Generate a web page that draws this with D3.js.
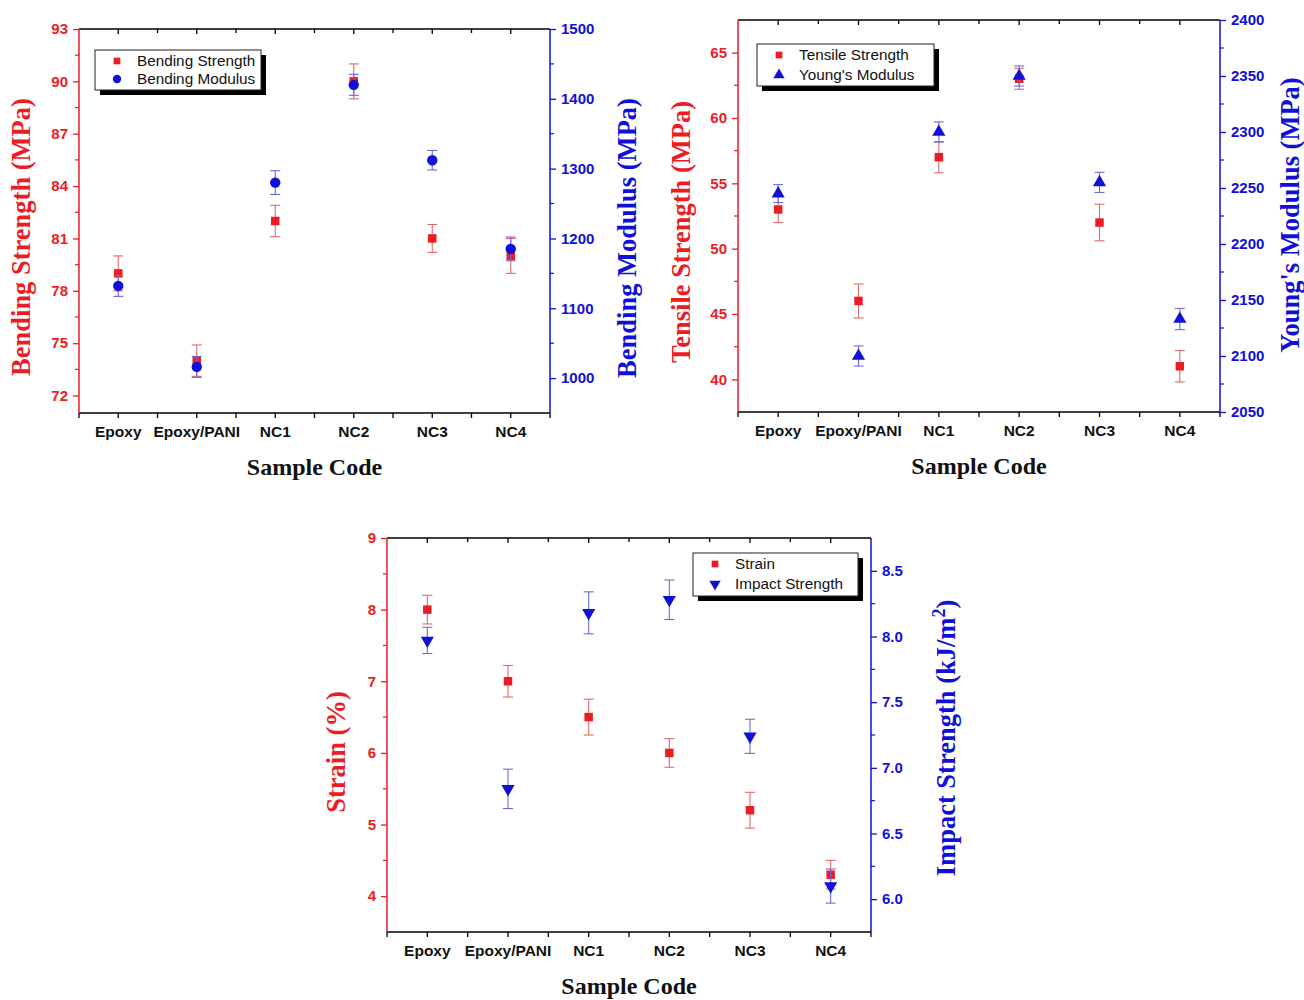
<!DOCTYPE html>
<html><head><meta charset="utf-8">
<script src="https://cdn.jsdelivr.net/npm/d3@7"></script>
<style>body{margin:0;background:#fff}</style>
</head><body>
<svg id="c" width="1304" height="1000"></svg>
<script>
const categories = ["Epoxy","Epoxy/PANI","NC1","NC2","NC3","NC4"];

const bendingStrength    = [79, 74, 82, 90, 81, 80];
const bendingStrengthErr = [1, 0.9, 0.9, 1, 0.8, 1];
const bendingModulus     = [1132, 1016, 1280, 1420, 1312, 1185];
const bendingModulusErr  = [15, 15, 17, 15, 14, 17];

const tensileStrength    = [53, 46, 57, 63, 52, 41];
const tensileStrengthErr = [1, 1.3, 1.2, 0.8, 1.4, 1.2];
const youngsModulus      = [2245, 2100, 2300, 2350, 2255, 2133];
const youngsModulusErr   = [8, 9, 9, 9, 9, 9.5];

const strain             = [8, 7, 6.5, 6, 5.2, 4.3];
const strainErr          = [0.2, 0.22, 0.25, 0.2, 0.25, 0.2];
const impactStrength     = [7.97, 6.84, 8.18, 8.28, 7.24, 6.10];
const impactStrengthErr  = [0.1, 0.15, 0.16, 0.15, 0.13, 0.13];

const bendingLeftTicks  = [72, 75, 78, 81, 84, 87, 90, 93];
const bendingRightTicks = [1000, 1100, 1200, 1300, 1400, 1500];
const tensileLeftTicks  = [40, 45, 50, 55, 60, 65];
const youngRightTicks   = [2050, 2100, 2150, 2200, 2250, 2300, 2350, 2400];
const strainLeftTicks   = [4, 5, 6, 7, 8, 9];
const impactRightTicks  = [6.0, 6.5, 7.0, 7.5, 8.0, 8.5];

const RED = "#ec1c24", BLUE = "#1010d8";
const RED_ERR = "#e06a6a", BLUE_ERR = "#6a6ae0";
const svg = d3.select("#c");

function panel(cfg) {
  const g = svg.append("g");
  const x = d3.scaleBand().domain(categories).range([cfg.x0, cfg.x1]);
  const cx = c => x(c) + x.bandwidth() / 2;
  const yL = d3.scaleLinear().domain(cfg.lDomain).range([cfg.y1, cfg.y0]);
  const yR = d3.scaleLinear().domain(cfg.rDomain).range([cfg.y1, cfg.y0]);

  const xt = [];
  categories.forEach((c, i) => { xt.push({p: cx(c), major: true}); if (i > 0) xt.push({p: x(c), major: false}); });

  // top axis
  g.append("line").attr("x1", cfg.x0).attr("x2", cfg.x1).attr("y1", cfg.y0).attr("y2", cfg.y0).attr("stroke", "#000").attr("stroke-width", 1.5);
  g.selectAll(".tt").data(xt).join("line").attr("x1", d => d.p).attr("x2", d => d.p)
    .attr("y1", cfg.y0).attr("y2", d => cfg.y0 + (d.major ? 5 : 4)).attr("stroke", "#000").attr("stroke-width", 1.3);

  // bottom axis
  const bx = d3.axisBottom(x).tickSize(0).tickPadding(13);
  const bg = g.append("g").attr("transform", `translate(0,${cfg.y1})`).call(bx);
  bg.select(".domain").attr("stroke", "#000").attr("stroke-width", 1.5).attr("d", `M${cfg.x0},0H${cfg.x1}`);
  bg.selectAll("text").attr("font-family", "Liberation Sans, Arial").attr("font-weight", "bold").attr("font-size", 15.5).attr("fill", "#111");
  g.selectAll(".bt").data(xt.concat([{p: cfg.x0}, {p: cfg.x1}])).join("line").attr("x1", d => d.p).attr("x2", d => d.p)
    .attr("y1", cfg.y1).attr("y2", cfg.y1 + 5).attr("stroke", "#000").attr("stroke-width", 1.3);

  // left axis
  const la = d3.axisLeft(yL).tickValues(cfg.lTicks).tickSize(6).tickPadding(5).tickFormat(cfg.lFmt || (d => d));
  const lg = g.append("g").attr("transform", `translate(${cfg.x0},0)`).call(la);
  lg.select(".domain").attr("stroke", RED).attr("stroke-width", 1.5).attr("d", `M0,${cfg.y0}V${cfg.y1}`);
  lg.selectAll(".tick line").attr("stroke", RED).attr("stroke-width", 1.3);
  lg.selectAll("text").attr("font-family", "Liberation Sans, Arial").attr("font-weight", "bold").attr("font-size", 15).attr("fill", RED);
  const lMinor = [];
  const lstep = cfg.lTicks[1] - cfg.lTicks[0];
  cfg.lTicks.forEach(t => [t - lstep / 2, t + lstep / 2].forEach(v => {
    if (v > cfg.lDomain[0] && v < cfg.lDomain[1] && !lMinor.some(m => Math.abs(m - v) < 1e-9)) lMinor.push(v);
  }));
  g.selectAll(".lm").data(lMinor).join("line").attr("x1", cfg.x0).attr("x2", cfg.x0 - 4)
    .attr("y1", d => yL(d)).attr("y2", d => yL(d)).attr("stroke", RED).attr("stroke-width", 1.2);

  // right axis
  const ra = d3.axisRight(yR).tickValues(cfg.rTicks).tickSize(6).tickPadding(5).tickFormat(cfg.rFmt || (d => d));
  const rg = g.append("g").attr("transform", `translate(${cfg.x1},0)`).call(ra);
  rg.select(".domain").attr("stroke", BLUE).attr("stroke-width", 1.5).attr("d", `M0,${cfg.y0}V${cfg.y1}`);
  rg.selectAll(".tick line").attr("stroke", BLUE).attr("stroke-width", 1.3);
  rg.selectAll("text").attr("font-family", "Liberation Sans, Arial").attr("font-weight", "bold").attr("font-size", 15).attr("fill", BLUE);
  const rMinor = [];
  const rstep = cfg.rTicks[1] - cfg.rTicks[0];
  cfg.rTicks.forEach(t => [t - rstep / 2, t + rstep / 2].forEach(v => {
    if (v > cfg.rDomain[0] && v < cfg.rDomain[1] && !rMinor.some(m => Math.abs(m - v) < 1e-9)) rMinor.push(v);
  }));
  g.selectAll(".rm").data(rMinor).join("line").attr("x1", cfg.x1).attr("x2", cfg.x1 + 4)
    .attr("y1", d => yR(d)).attr("y2", d => yR(d)).attr("stroke", BLUE).attr("stroke-width", 1.2);

  // titles
  g.append("text").attr("x", (cfg.x0 + cfg.x1) / 2).attr("y", cfg.y1 + 62).attr("text-anchor", "middle")
    .attr("font-family", "Liberation Serif, Times New Roman").attr("font-weight", "bold").attr("font-size", 24).attr("fill", "#111").text("Sample Code");
  g.append("text").attr("transform", `translate(${cfg.lTitleX},${cfg.lTitleY}) rotate(-90)`).attr("text-anchor", "middle")
    .attr("font-family", "Liberation Serif, Times New Roman").attr("font-weight", "bold").attr("font-size", 26.5).attr("fill", RED).text(cfg.lTitle);
  const rt = g.append("text").attr("transform", `translate(${cfg.rTitleX},${cfg.rTitleY}) rotate(-90)`).attr("text-anchor", "middle")
    .attr("font-family", "Liberation Serif, Times New Roman").attr("font-weight", "bold").attr("font-size", 26.5).attr("fill", BLUE);
  if (cfg.rTitleSup) {
    rt.append("tspan").text(cfg.rTitle);
    rt.append("tspan").attr("baseline-shift", "super").attr("font-size", 18).text(cfg.rTitleSup);
    rt.append("tspan").text(")");
  } else rt.text(cfg.rTitle);

  // series
  function series(vals, errs, y, color, ecolor, shape) {
    const data = categories.map((c, i) => ({c, v: vals[i], e: errs[i]}));
    const eg = g.append("g").attr("stroke", ecolor).attr("stroke-width", 1.1);
    eg.selectAll(".v").data(data).join("line").attr("x1", d => cx(d.c)).attr("x2", d => cx(d.c))
      .attr("y1", d => y(d.v - d.e)).attr("y2", d => y(d.v + d.e));
    eg.selectAll(".t").data(data).join("line").attr("x1", d => cx(d.c) - 5).attr("x2", d => cx(d.c) + 5)
      .attr("y1", d => y(d.v + d.e)).attr("y2", d => y(d.v + d.e));
    eg.selectAll(".b").data(data).join("line").attr("x1", d => cx(d.c) - 5).attr("x2", d => cx(d.c) + 5)
      .attr("y1", d => y(d.v - d.e)).attr("y2", d => y(d.v - d.e));
    g.selectAll(null).data(data).join("path")
      .attr("transform", d => `translate(${cx(d.c)},${y(d.v)})` + (shape === "down" ? " rotate(180)" : ""))
      .attr("d", d3.symbol().type(shape === "square" ? d3.symbolSquare : shape === "circle" ? d3.symbolCircle : d3.symbolTriangle)
        .size(shape === "square" ? 72 : shape === "circle" ? 85 : 75))
      .attr("fill", color);
  }
  series(cfg.lVals, cfg.lErr, yL, RED, RED_ERR, "square");
  series(cfg.rVals, cfg.rErr, yR, BLUE, BLUE_ERR, cfg.rShape);

  // legend
  const L = cfg.legend;
  g.append("rect").attr("x", L.x + 5).attr("y", L.y + 5).attr("width", L.w).attr("height", L.h).attr("fill", "#000");
  g.append("rect").attr("x", L.x).attr("y", L.y).attr("width", L.w).attr("height", L.h).attr("fill", "#fff").attr("stroke", "#222").attr("stroke-width", 1);
  [[cfg.lName, RED, "square"], [cfg.rName, BLUE, cfg.rShape]].forEach((e, i) => {
    const yy = L.y + 11 + i * L.gap;
    g.append("path").attr("transform", `translate(${L.x + 22},${yy})` + (e[2] === "down" ? " rotate(180)" : ""))
      .attr("d", d3.symbol().type(e[2] === "square" ? d3.symbolSquare : e[2] === "circle" ? d3.symbolCircle : d3.symbolTriangle)
        .size(e[2] === "square" ? 45 : 55)).attr("fill", e[1]);
    g.append("text").attr("x", L.x + 42).attr("y", yy + 5).attr("font-family", "Liberation Sans, Arial").attr("font-size", 15.3).attr("fill", "#111").text(e[0]);
  });
}

panel({
  x0: 79, x1: 550, y0: 29, y1: 413,
  lDomain: [71, 93], rDomain: [950, 1500], lTicks: bendingLeftTicks, rTicks: bendingRightTicks,
  lVals: bendingStrength, lErr: bendingStrengthErr, rVals: bendingModulus, rErr: bendingModulusErr,
  rShape: "circle", lName: "Bending Strength", rName: "Bending Modulus",
  lTitle: "Bending Strength (MPa)", lTitleX: 30, lTitleY: 237,
  rTitle: "Bending Modulus (MPa)", rTitleX: 636, rTitleY: 238,
  legend: {x: 95, y: 50, w: 166, h: 40, gap: 18}
});

panel({
  x0: 738, x1: 1220, y0: 20, y1: 412,
  lDomain: [37.5, 67.5], rDomain: [2050, 2400], lTicks: tensileLeftTicks, rTicks: youngRightTicks,
  lVals: tensileStrength, lErr: tensileStrengthErr, rVals: youngsModulus, rErr: youngsModulusErr,
  rShape: "up", lName: "Tensile Strength", rName: "Young's Modulus",
  lTitle: "Tensile Strength (MPa)", lTitleX: 690, lTitleY: 232,
  rTitle: "Young's Modulus (MPa)", rTitleX: 1299, rTitleY: 215,
  legend: {x: 757, y: 44, w: 177, h: 42, gap: 20}
});

panel({
  x0: 387, x1: 871, y0: 538, y1: 932,
  lDomain: [3.5, 9], rDomain: [5.75, 8.75], lTicks: strainLeftTicks, rTicks: impactRightTicks,
  rFmt: d3.format(".1f"),
  lVals: strain, lErr: strainErr, rVals: impactStrength, rErr: impactStrengthErr,
  rShape: "down", lName: "Strain", rName: "Impact Strength",
  lTitle: "Strain (%)", lTitleX: 345, lTitleY: 752,
  rTitle: "Impact Strength (kJ/m", rTitleSup: "2", rTitleX: 955, rTitleY: 738,
  legend: {x: 693, y: 553, w: 165, h: 43, gap: 20}
});
</script>
</body></html>
